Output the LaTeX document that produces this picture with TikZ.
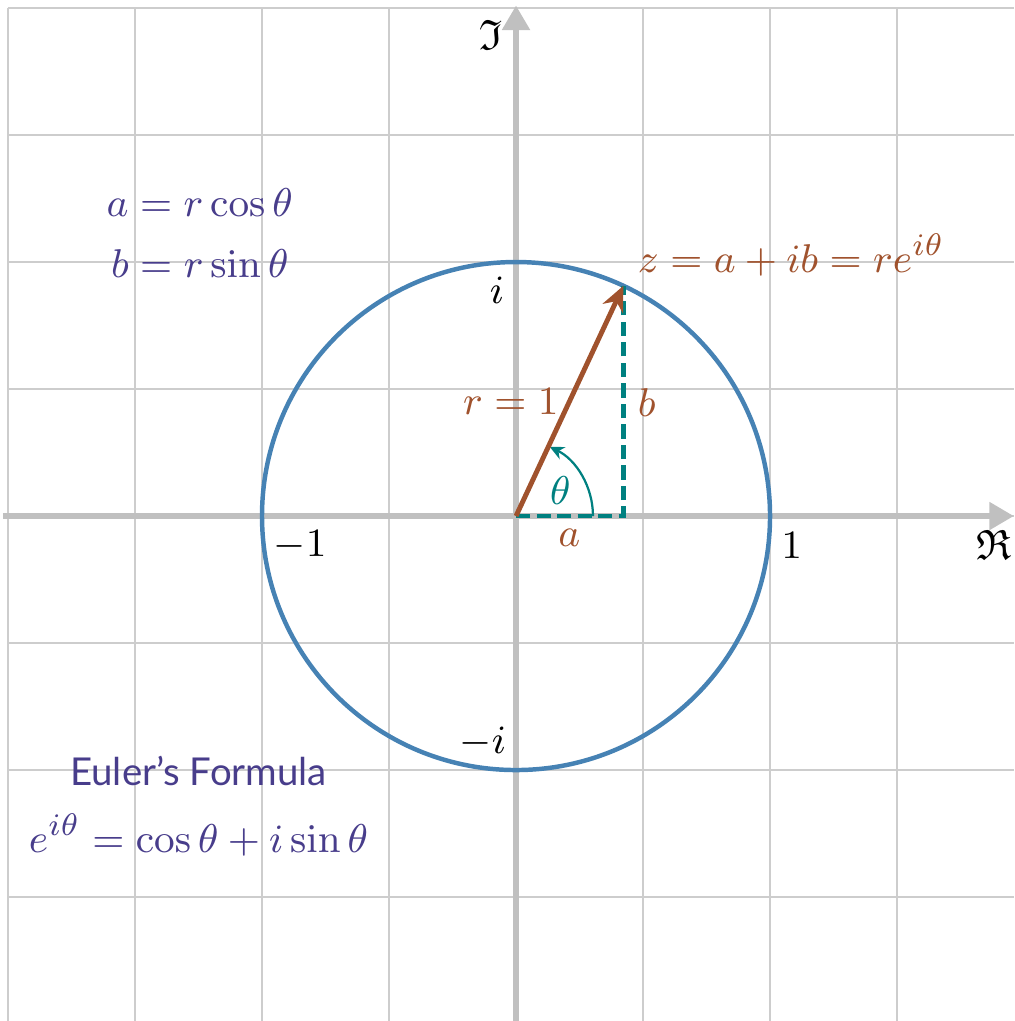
\documentclass[tikz,border=0pt]{standalone}
\usepackage{amsmath,amssymb}
\usepackage[no-math]{fontspec}
\usepackage{xcolor}
\usetikzlibrary{arrows.meta}
\newfontfamily\notefont{Lato}
\definecolor{gridline}{HTML}{CDCDCD}
\definecolor{axisgray}{HTML}{C0C0C0}
\definecolor{circleblue}{HTML}{4682B4}
\definecolor{vecbrown}{HTML}{A0522D}
\definecolor{projteal}{HTML}{008080}
\definecolor{noteviolet}{HTML}{483D8B}

\begin{document}
\begin{tikzpicture}[
    font=\fontsize{9.5}{11}\selectfont,
    gridln/.style={draw=gridline, line width=0.4pt},
    axisln/.style={draw=axisgray, line width=1.3pt,
                   -{Triangle[width=6pt,length=5.5pt]}},
    unitcirc/.style={draw=circleblue, line width=1pt},
    vecln/.style={draw=vecbrown, line width=1.1pt,
                  -{Stealth[length=5.6pt,width=5pt]}},
    projln/.style={draw=projteal, line width=1pt, dash pattern=on 3.2pt off 1.4pt},
    anglearc/.style={draw=projteal, line width=0.5pt,
                     -{Stealth[length=3.2pt,width=3pt]}},
    tick/.style={text=black, inner sep=1pt},
    note/.style={text=noteviolet, inner sep=1pt},
  ]
\useasboundingbox (-4.063,-3.976) rectangle (3.921,4.063);

% grid
\foreach \x in {-4,...,3}
  \draw[gridln] (\x,-3.976) -- (\x,4);
\foreach \y in {-3,...,4}
  \draw[gridln] (-4,\y) -- (3.921,\y);

% axes
\coordinate (O) at (0,0);
\coordinate (xend) at (3.92,0);
\coordinate (yend) at (0,4.02);
\draw[axisln] (-4.04,0) -- (xend);
\draw[axisln] (0,-3.976) -- (yend);
\node[tick] (re) at (3.76,-0.23) {$\mathfrak{R}$};
\node[tick] (im) at (-0.20,3.79) {$\mathfrak{I}$};

% unit circle
\draw[unitcirc] (O) circle[radius=2];
\node[tick] (pone) at (2.17,-0.23) {$1$};
\node[tick] (mone) at (-1.70,-0.23) {$-1$};
\node[tick] (pi) at (-0.15,1.78) {$i$};
\node[tick] (mi) at (-0.26,-1.78) {$-i$};

% z and its parts
\coordinate (z) at (65:2);
\coordinate (zre) at (z |- O);
\draw[projln] (O) -- (zre) -- (z);
\draw[anglearc] (0.606,0) arc[start angle=0, end angle=64, radius=0.606];
\draw[vecln] (O) -- (z);

\node[text=vecbrown, anchor=base west, inner sep=0pt] (zlbl) at (0.953,1.92)
  {$z=a+ib=re^{i\theta}$};
\node[text=vecbrown, inner sep=1pt] (rlbl) at (-0.04,0.90) {$r=1$};
\node[text=vecbrown, inner sep=1pt] (blbl) at (1.03,0.89) {$b$};
\node[text=vecbrown, inner sep=1pt] (albl) at (0.42,-0.17) {$a$};
\node[text=projteal, inner sep=1pt] (tlbl) at (0.35,0.20) {$\theta$};

% notes
\node[note] (acos) at (-2.49,2.47) {$a=r\cos\theta$};
\node[note] (bsin) at (-2.49,1.99) {$b=r\sin\theta$};
\node[note, font=\notefont\fontsize{8.6}{10}\selectfont] (euler) at (-2.50,-2.01) {Euler’s Formula};
\node[note] (eform) at (-2.50,-2.51) {$e^{i\theta}=\cos\theta+i\sin\theta$};

\end{tikzpicture}
\end{document}
